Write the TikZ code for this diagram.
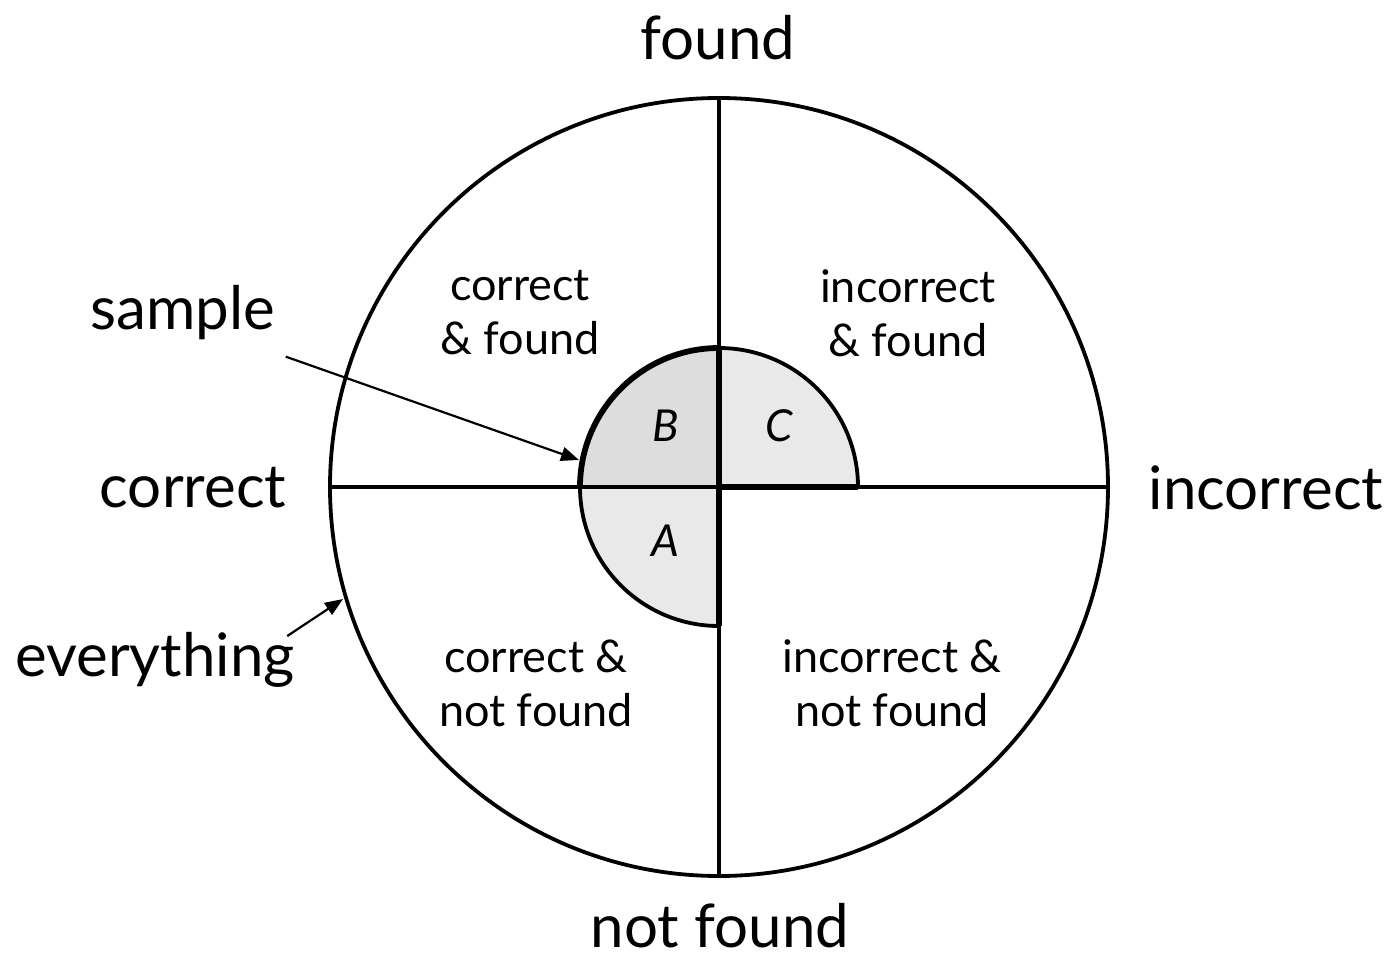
\documentclass[tikz,border=0pt]{standalone}
\usepackage{fontspec}
\setmainfont{Lato}
\usetikzlibrary{arrows.meta,positioning}
\definecolor{sampledark}{RGB}{221,221,221}
\definecolor{samplelight}{RGB}{233,233,233}

\begin{document}
\begin{tikzpicture}[x=0.5pt,y=0.5pt,
    rim/.style={line width=1.9pt},
    heavy/.style={line width=2.9pt},
    axislabel/.style={font=\fontsize{30}{33}\selectfont, inner sep=0pt},
    cell/.style={align=center, font=\fontsize{22.5}{27}\selectfont, inner sep=0pt},
    letter/.style={font=\fontsize{22}{25}\selectfont\itshape, inner sep=0pt},
    pointer/.style={-{Triangle[length=9pt,width=7pt]}, line width=1.1pt}
]
\useasboundingbox (0,0) rectangle (1394,-963);
\coordinate (c) at (719,-487);

% sample quarters
\fill[sampledark] (c) -- (719,-348) arc[start angle=90, end angle=180, radius=139] -- cycle;
\fill[samplelight] (c) -- (858,-487) arc[start angle=0, end angle=90, radius=139] -- cycle;
\fill[samplelight] (c) -- (580,-487) arc[start angle=180, end angle=270, radius=139] -- cycle;

% everything
\draw[rim] (c) circle[radius=389];
\draw[rim] (719,-97) -- (719,-877);
\draw[rim] (330,-487) -- (1108,-487);
\draw[heavy] (719,-348) -- (719,-626);
\draw[heavy] (c) -- (858,-487);
\draw[heavy] (719,-348) arc[start angle=90, end angle=180, radius=139];
\draw[rim] (858,-487) arc[start angle=0, end angle=90, radius=139];
\draw[rim] (580,-487) arc[start angle=180, end angle=270, radius=139];

% axis labels
\node[axislabel] (found) at (718,-38) {found};
\node[axislabel] (notfound) at (720,-926) {not found};
\node[axislabel] (correct) at (193,-488) {correct};
\node[axislabel] (incorrect) at (1266,-488) {incorrect};
\node[axislabel] (sample) at (183,-313) {sample};
\node[axislabel] (everything) at (155,-660) {everything};

% quadrants
\node[cell] (cf) at (520,-313) {correct\\\& found};
\node[cell] (icf) at (908,-313) {incorrect\\\& found};
\node[cell] (cnf) at (536,-683) {correct \&\\not found};
\node[cell] (icnf) at (892,-683) {incorrect \&\\not found};

\node[letter] (B) at (666,-426) {B};
\node[letter] (C) at (779,-426) {C};
\node[letter] (A) at (665,-541) {A};

% pointers
\coordinate (samplehit) at (579,-460);
\coordinate (rimhit) at (343,-599);
\draw[pointer] ([shift={(10,-16)}]sample.south east) -- (samplehit);
\draw[pointer] ([shift={(-8,-4)}]everything.north east) -- (rimhit);
\end{tikzpicture}
\end{document}
